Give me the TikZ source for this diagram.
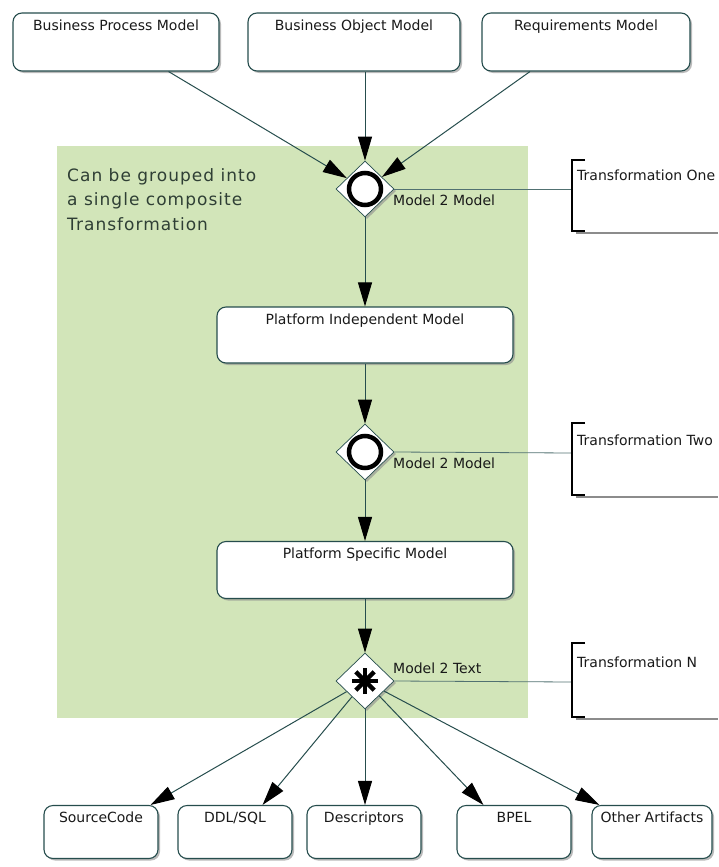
\documentclass[tikz,border=0pt]{standalone}
\usepackage{fontspec}
\setmainfont{DejaVu Sans}
\newfontfamily\grpfont[LetterSpace=6]{DejaVu Sans}
\usetikzlibrary{shapes.geometric,arrows.meta,shadows,calc}
\definecolor{linec}{HTML}{264D4D}
\definecolor{grp}{HTML}{D2E5B9}
\definecolor{grptext}{HTML}{2F3F35}
\tikzset{
  box/.style={draw=linec, line width=1.1pt, rounded corners=9pt, fill=white, inner sep=0pt,
     drop shadow={shadow xshift=2pt, shadow yshift=-2pt, fill=black!45, opacity=0.6}},
  lbl/.style={font=\fontsize{14}{16}\selectfont, text=black!90, inner sep=0pt},
  gate/.style={diamond, draw=linec, line width=0.7pt, fill=white, inner sep=0pt, minimum width=58pt, minimum height=56pt,
     drop shadow={shadow xshift=2pt, shadow yshift=-2pt, fill=black!45, opacity=0.6}},
  ring/.style={circle, draw=black, line width=4.5pt, fill=white, inner sep=0pt, minimum size=32pt},
  flow/.style={draw=linec, line width=1pt, -{Triangle[length=24pt,width=14pt,color=black]}},
  assoc/.style={draw=linec!80, line width=0.8pt},
  brack/.style={draw=black, line width=1.2pt},
}
\begin{document}
\begin{tikzpicture}[x=1pt,y=-1pt]
\useasboundingbox (0,0) rectangle (718,867);
% group area
\fill[grp] (57,146) rectangle (528,718);
\node[font=\grpfont\fontsize{17}{24.5}\selectfont, text=grptext, align=left, anchor=north west, inner sep=0pt] (grouptext) at (67,168)
  {Can be grouped into\\a single composite\\Transformation};

% top boxes
\node[box, minimum width=206pt, minimum height=58pt] (bpm) at (116,42) {};
\node[lbl, anchor=base] (bpmt) at ([yshift=-18pt]bpm.north) {Business Process Model};
\node[box, minimum width=212pt, minimum height=58pt] (bom) at (354,42) {};
\node[lbl, anchor=base] (bomt) at ([yshift=-18pt]bom.north) {Business Object Model};
\node[box, minimum width=208pt, minimum height=58pt] (rm) at (586,42) {};
\node[lbl, anchor=base] (rmt) at ([yshift=-18pt]rm.north) {Requirements Model};

% gates
\node[gate] (d1) at (365,189) {};
\node[ring] (r1) at (d1) {};
\node[lbl, anchor=base west] (d1l) at (393,205) {Model 2 Model};

\node[gate] (d2) at (365,452) {};
\node[ring] (r2) at (d2) {};
\node[lbl, anchor=base west] (d2l) at (393,468) {Model 2 Model};

\node[gate] (d3) at (365,681) {};
\foreach \a in {0,45,90,135}{
  \draw[line width=4.5pt, black] ($(d3)+(\a:13)$) -- ($(d3)+(\a+180:13)$);
}
\node[lbl, anchor=base west] (d3l) at (393,673) {Model 2 Text};

% middle boxes
\node[box, minimum width=296pt, minimum height=56pt] (pim) at (365,335) {};
\node[lbl, anchor=base] (pimt) at ([yshift=-18pt]pim.north) {Platform Independent Model};
\node[box, minimum width=296pt, minimum height=57pt] (psm) at (365,570) {};
\node[lbl, anchor=base] (psmt) at ([yshift=-18pt]psm.north) {Platform Specific Model};

% bottom boxes
\node[box, minimum width=114pt, minimum height=53pt] (sc) at (101,832) {};
\node[lbl, anchor=base] (sct) at ([yshift=-18pt]sc.north) {SourceCode};
\node[box, minimum width=114pt, minimum height=53pt] (ddl) at (235,832) {};
\node[lbl, anchor=base] (ddlt) at ([yshift=-18pt]ddl.north) {DDL/SQL};
\node[box, minimum width=114pt, minimum height=53pt] (desc) at (364,832) {};
\node[lbl, anchor=base] (desct) at ([yshift=-18pt]desc.north) {Descriptors};
\node[box, minimum width=114pt, minimum height=53pt] (bpel) at (514,832) {};
\node[lbl, anchor=base] (bpelt) at ([yshift=-18pt]bpel.north) {BPEL};
\node[box, minimum width=120pt, minimum height=53pt] (oth) at (652,832) {};
\node[lbl, anchor=base] (otht) at ([yshift=-18pt]oth.north) {Other Artifacts};

% flows
\draw[flow] ([xshift=-51pt]bpm.south east) -- (d1);
\draw[flow] (bom.south -| d1.north) -- (d1.north);
\draw[flow] ([xshift=-56pt]rm.south) -- (d1);
\draw[flow] (d1.south) -- (pim.north);
\draw[flow] (pim.south) -- (d2.north);
\draw[flow] (d2.south) -- (psm.north);
\draw[flow] (psm.south) -- (d3.north);
\draw[flow] (d3) -- ([xshift=-8pt]sc.north east);
\draw[flow] (d3) -- ([xshift=-30pt]ddl.north east);
\draw[flow] (d3) -- (desc.north -| d3.south);
\draw[flow] (d3) -- ([xshift=27pt]bpel.north west);
\draw[flow] (d3) -- ([xshift=8pt]oth.north west);

% transformation annotations
\coordinate (t1) at (572,189);
\draw[assoc] (d1.east) -- (t1);
\draw[black!45, line width=1.5pt] (576,233) -- (718,233);
\draw[brack] (585,160) -- (572,160) -- (572,231) -- (585,231);
\node[lbl, anchor=base west] (t1l) at (577,180) {Transformation One};

\coordinate (t2) at (572,453);
\draw[assoc] (d2.east) -- (t2);
\draw[black!45, line width=1.5pt] (576,497) -- (718,497);
\draw[brack] (585,423) -- (572,423) -- (572,495) -- (585,495);
\node[lbl, anchor=base west] (t2l) at (577,445) {Transformation Two};

\coordinate (t3) at (572,682);
\draw[assoc] (d3.east) -- (t3);
\draw[black!45, line width=1.5pt] (576,719) -- (718,719);
\draw[brack] (585,643) -- (572,643) -- (572,717) -- (585,717);
\node[lbl, anchor=base west] (t3l) at (577,667) {Transformation N};
\end{tikzpicture}
\end{document}
